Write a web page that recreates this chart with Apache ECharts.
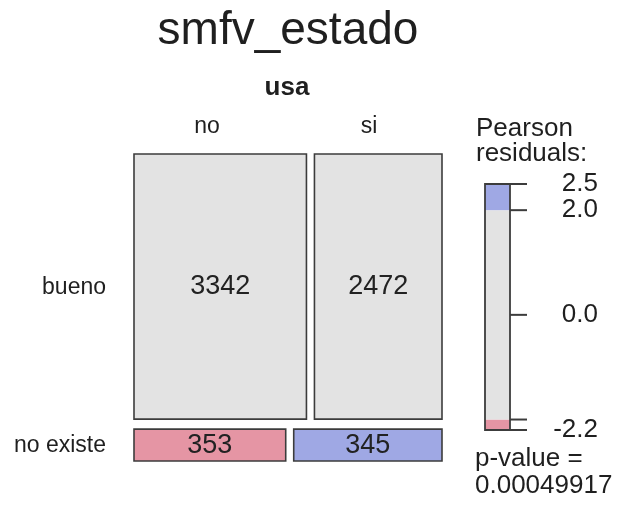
<!doctype html>
<html lang="es">
<head>
  <meta charset="UTF-8">
  <title>smfv_estado</title>
  <script src="https://cdn.jsdelivr.net/npm/echarts@6/dist/echarts.min.js"></script>
  <style>
    * { margin: 0; padding: 0; box-sizing: border-box; }
    body { background: #fff; }
    #chart { width: 625px; height: 506px; }
  </style>
</head>
<body>
<div id="chart"></div>
<script>
  // datos de la tabla
  const rowCats = ['bueno', 'no existe']
  const colCats = ['no', 'si']
  const counts = [[3342, 2472], [353, 345]]
  const legendBreaks = [-2.2, -2.0, 2.0, 2.5]
  const legendTicks = [-2.2, -2.0, 0.0, 2.0, 2.5]
  const legendLabels = [-2.2, 0.0, 2.0, 2.5]
  const pValue = '0.00049917'

  const FONT = '"Liberation Sans", Arial, Helvetica, sans-serif'
  const INK = '#1f1f1f'
  const GRAY = '#e3e3e3', PINK = '#e595a4', BLUE = '#9fa8e4', EDGE = '#3c3c3c'
  const gapX = 8 / 308, gapY = 10 / 307

  // residuos de Pearson
  const total = counts.flat().reduce((a, b) => a + b, 0)
  const rowSums = counts.map(r => r.reduce((a, b) => a + b, 0))
  const colSums = colCats.map((_, j) => counts.reduce((a, r) => a + r[j], 0))

  function fillFor(r) {
    if (r >= 2) return BLUE
    if (r <= -2) return PINK
    return GRAY
  }

  const cells = []
  let y = 0
  const availY = 1 - gapY * (rowCats.length - 1)
  for (let i = 0; i < rowCats.length; i++) {
    const h = rowSums[i] / total * availY
    let x = 0
    const availX = 1 - gapX * (colCats.length - 1)
    for (let j = 0; j < colCats.length; j++) {
      const w = counts[i][j] / rowSums[i] * availX
      const e = rowSums[i] * colSums[j] / total
      const r = (counts[i][j] - e) / Math.sqrt(e)
      cells.push([x, x + w, y, y + h, counts[i][j], r])
      x += w + gapX
    }
    y += h + gapY
  }

  const legendData = []
  for (let k = 0; k < legendBreaks.length - 1; k++) {
    const lo = legendBreaks[k], hi = legendBreaks[k + 1]
    legendData.push([lo, hi, (lo + hi) / 2])
  }

  const chart = echarts.init(document.getElementById('chart'))

  function txt(text, x, y, size, align, bold) {
    return {
      type: 'text', x: x, y: y, silent: true,
      style: {
        text: text, fontSize: size, fontFamily: FONT, fill: INK,
        fontWeight: bold ? 'bold' : 'normal',
        align: align || 'center', verticalAlign: 'middle'
      }
    }
  }

  const graphics = [
    txt('smfv_estado', 288, 31, 46),
    txt('usa', 287, 88, 26, 'center', true),
    txt(colCats[0], 207, 127, 23),
    txt(colCats[1], 369, 127, 23),
    txt(rowCats[0], 106, 288, 23, 'right'),
    txt(rowCats[1], 106, 446, 23, 'right'),
    txt('Pearson', 476, 129, 26, 'left'),
    txt('residuals:', 476, 154, 26, 'left'),
    txt('p-value =', 475, 459, 26, 'left'),
    txt(pValue, 475, 486, 26, 'left')
  ]

  function barRect(api) {
    const p0 = api.coord([0, api.value(1)])
    const p1 = api.coord([1, api.value(0)])
    return {x: p0[0], y: p0[1], width: p1[0] - p0[0], height: p1[1] - p0[1]}
  }

  const option = {
    animation: false,
    graphic: graphics,
    grid: [
      {left: 134, top: 154, width: 308, height: 307},
      {left: 485, top: 184, width: 25, height: 246}
    ],
    xAxis: [
      {type: 'value', min: 0, max: 1, show: false, gridIndex: 0},
      {type: 'value', min: 0, max: 1, show: false, gridIndex: 1}
    ],
    yAxis: [
      {type: 'value', min: 0, max: 1, inverse: true, show: false, gridIndex: 0},
      {
        type: 'value', min: -2.2, max: 2.5, gridIndex: 1, position: 'right',
        splitLine: {show: false},
        axisLine: {show: false},
        axisTick: {show: false},
        axisLabel: {
          customValues: legendLabels, margin: 88, align: 'right',
          fontSize: 26, fontFamily: FONT, color: INK,
          formatter: v => Number(v).toFixed(1)
        }
      }
    ],
    series: [
      {
        type: 'custom', xAxisIndex: 0, yAxisIndex: 0,
        encode: {x: [0, 1], y: [2, 3]},
        data: cells,
        renderItem: function (params, api) {
          const p0 = api.coord([api.value(0), api.value(2)])
          const p1 = api.coord([api.value(1), api.value(3)])
          return {
            type: 'group',
            children: [
              {
                type: 'rect',
                shape: {x: p0[0], y: p0[1], width: p1[0] - p0[0], height: p1[1] - p0[1]},
                style: {fill: fillFor(api.value(5)), stroke: EDGE, lineWidth: 1.6}
              },
              {
                type: 'text',
                style: {
                  text: String(api.value(4)), x: (p0[0] + p1[0]) / 2, y: (p0[1] + p1[1]) / 2,
                  align: 'center', verticalAlign: 'middle',
                  fontSize: 27, fontFamily: FONT, fill: '#222'
                }
              }
            ]
          }
        }
      },
      {
        // franjas de color de la leyenda
        type: 'custom', xAxisIndex: 1, yAxisIndex: 1,
        encode: {y: [0, 1]},
        data: legendData,
        renderItem: function (params, api) {
          return {type: 'rect', shape: barRect(api), style: {fill: fillFor(api.value(2))}}
        }
      },
      {
        // borde de la leyenda
        type: 'custom', xAxisIndex: 1, yAxisIndex: 1,
        encode: {y: [0, 1]},
        data: [[legendBreaks[0], legendBreaks[legendBreaks.length - 1]]],
        renderItem: function (params, api) {
          return {type: 'rect', shape: barRect(api), style: {fill: 'none', stroke: EDGE, lineWidth: 1.8}}
        }
      },
      {
        // marcas de la escala
        type: 'custom', xAxisIndex: 1, yAxisIndex: 1,
        encode: {y: 0},
        data: legendTicks.map(v => [v]),
        renderItem: function (params, api) {
          const p = api.coord([1, api.value(0)])
          return {
            type: 'line',
            shape: {x1: p[0], y1: p[1], x2: p[0] + 17, y2: p[1]},
            style: {stroke: EDGE, lineWidth: 2}
          }
        }
      }
    ]
  }
  chart.setOption(option)
</script>
</body>
</html>
